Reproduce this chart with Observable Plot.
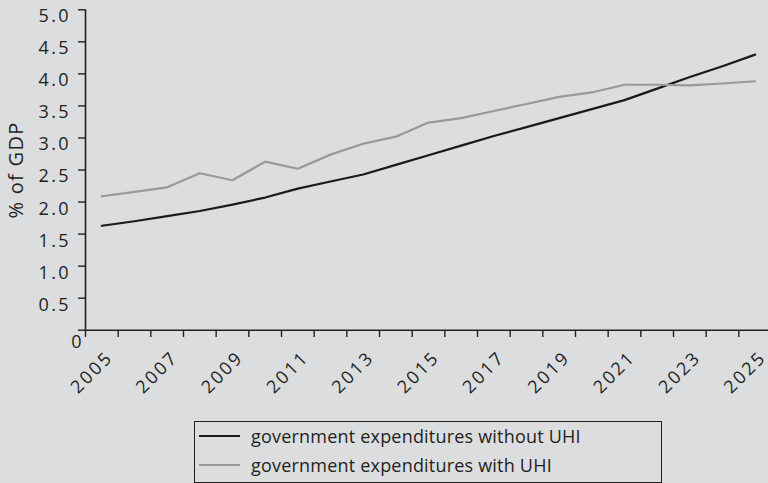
<!DOCTYPE html>
<html>
<head>
<meta charset="utf-8">
<script src="https://cdn.jsdelivr.net/npm/d3@7"></script>
<script src="https://cdn.jsdelivr.net/npm/@observablehq/plot@0.6"></script>
<style>
  html, body { margin: 0; padding: 0; background: #dcdddf; overflow: hidden; }
  #wrap { position: relative; width: 768px; height: 483px; font-family: "Open Sans", sans-serif; color: #231f20; }
  #legend { position: absolute; left: 194px; top: 421px; width: 468px; height: 62px; border: 1.3px solid #231f20; box-sizing: border-box; }
  .row { position: absolute; left: 4px; height: 22px; display: flex; align-items: center; font-size: 18px; letter-spacing: 0.2px; white-space: nowrap; }
  .sw { width: 41px; height: 0; margin-right: 11px; }
  svg text { letter-spacing: 2.4px; }
  svg text.ylab { letter-spacing: 1.3px; }
</style>
</head>
<body>
<div id="wrap"><div id="chart"></div><div id="legend"></div></div>
<script>
const years = [2005,2006,2007,2008,2009,2010,2011,2012,2013,2014,2015,2016,2017,2018,2019,2020,2021,2022,2023,2024,2025];
const withoutUHI = [1.63,1.70,1.78,1.86,1.96,2.07,2.21,2.32,2.43,2.58,2.73,2.88,3.03,3.17,3.31,3.45,3.59,3.77,3.95,4.12,4.30];
const withUHI = [2.09,2.16,2.23,2.45,2.34,2.63,2.52,2.74,2.91,3.02,3.24,3.31,3.42,3.53,3.64,3.71,3.83,3.83,3.82,3.85,3.885];
const seriesNames = ["government expenditures without UHI", "government expenditures with UHI"];
const seriesColors = ["#1a1a1a", "#999999"];
const yTicks = [0,0.5,1,1.5,2,2.5,3,3.5,4,4.5,5];
const xLabelYears = [2005,2007,2009,2011,2013,2015,2017,2019,2021,2023,2025];
const yLabel = "% of GDP";

const rows = [];
years.forEach((y, i) => {
  rows.push({year: y, value: withoutUHI[i], series: seriesNames[0]});
  rows.push({year: y, value: withUHI[i], series: seriesNames[1]});
});
const xBounds = [years[0] - 0.5, years[years.length - 1] + 0.5];
const xTickBounds = d3.range(years.length + 1).map(i => xBounds[0] + i);
const ink = "#231f20";

const chart = Plot.plot({
  width: 768,
  height: 412,
  marginLeft: 85,
  marginRight: 0,
  marginTop: 9,
  marginBottom: 82,
  style: {background: "#dcdddf", fontFamily: "'Open Sans', sans-serif", color: ink, overflow: "hidden"},
  x: {domain: xBounds, range: [85, 771]},
  y: {domain: [0, 5], range: [329.7, 9.3]},
  color: {domain: seriesNames, range: seriesColors},
  marks: [
    Plot.axisY(yTicks, {tickSize: 7, fill: "none", strokeWidth: 1.4, label: null, tickFormat: null}),
    Plot.axisY(yTicks, {stroke: "none", tickSize: 7, tickPadding: 7.5, dy: 6.7, fontSize: 18, label: null,
      tickFormat: d => d === 0 ? "" : d.toFixed(1)}),
    Plot.axisY([0], {stroke: "none", tickSize: 0, tickPadding: 1.5, dy: 11.7, fontSize: 18, label: null, tickFormat: d => "0"}),
    Plot.axisX(xTickBounds, {tickSize: 7, fill: "none", strokeWidth: 1.4, label: null}),
    Plot.axisX(xLabelYears, {stroke: "none", tickSize: 7, tickPadding: 4, tickRotate: -45, fontSize: 18, label: null,
      tickFormat: d => String(d), dx: 8, dy: 13}),
    Plot.ruleX([xBounds[0]], {y1: 0, y2: 5, stroke: ink, strokeWidth: 1.6}),
    Plot.ruleY([0], {x1: xBounds[0], x2: xBounds[1], stroke: ink, strokeWidth: 1.6}),
    Plot.line(rows, {x: "year", y: "value", z: "series", stroke: "series", strokeWidth: 2.2}),
    Plot.text([yLabel], {frameAnchor: "left", textAnchor: "middle", dx: -69, rotate: -90, fontSize: 20, fill: ink})
  ]
});
document.getElementById("chart").appendChild(chart);
// letter-spacing for the axis title only
chart.querySelectorAll("text").forEach(t => { if (t.textContent === yLabel) t.setAttribute("class", "ylab"); });

const legend = document.getElementById("legend");
seriesNames.forEach((name, i) => {
  const r = document.createElement("div");
  r.className = "row";
  r.style.top = (i === 0 ? 3 : 32) + "px";
  const sw = document.createElement("span");
  sw.className = "sw";
  sw.style.borderTop = `2px solid ${seriesColors[i]}`;
  const t = document.createElement("span");
  t.textContent = name;
  r.appendChild(sw); r.appendChild(t);
  legend.appendChild(r);
});
</script>
</body>
</html>
